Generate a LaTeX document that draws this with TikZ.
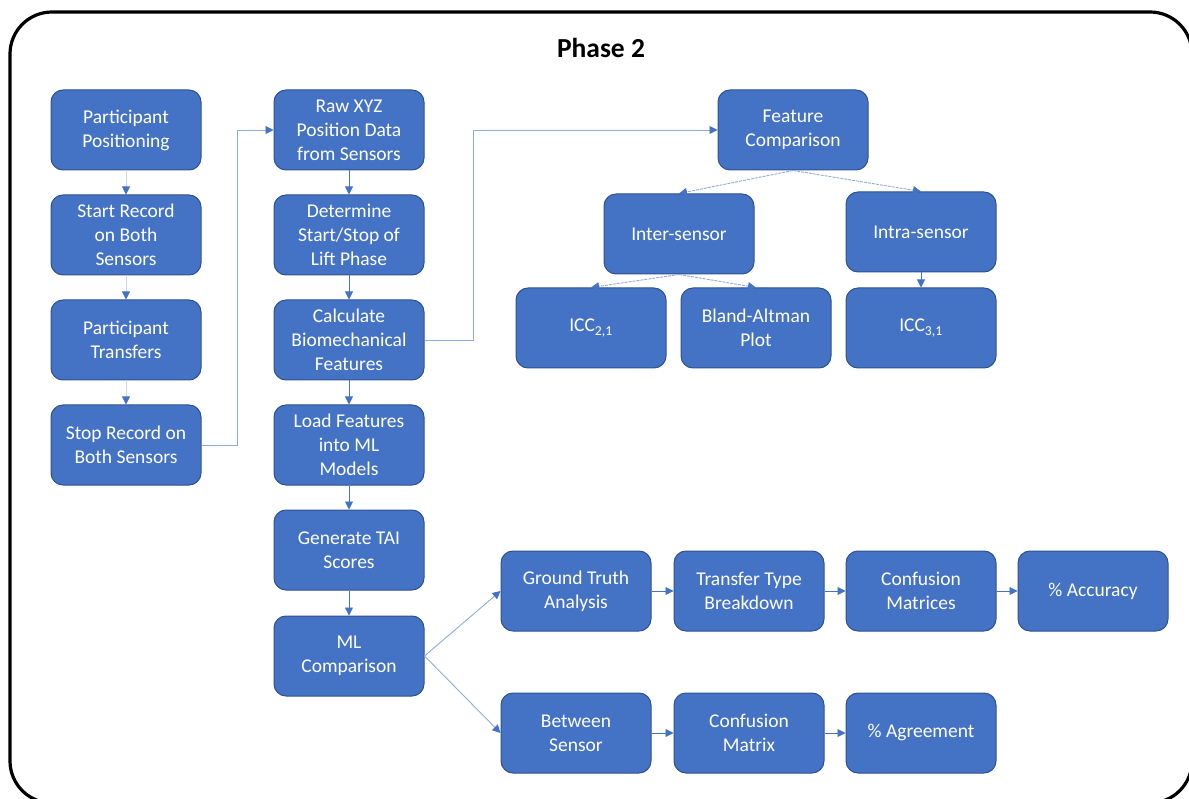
\documentclass[tikz,border=0pt]{standalone}
\usepackage{fontspec}
\setmainfont{Carlito}
\usetikzlibrary{arrows.meta}
\definecolor{boxfill}{HTML}{4472C4}
\definecolor{boxborder}{HTML}{2F528F}
\definecolor{arrcol}{HTML}{4472C4}
\definecolor{faint}{HTML}{C9D6EE}
\definecolor{mid}{HTML}{8FAADC}
\tikzset{
  box/.style={draw=boxborder, fill=boxfill, rounded corners=12pt, minimum width=150pt,
    minimum height=80pt, text=white, align=center, line width=1pt,
    font=\fontsize{19.5}{24}\selectfont, inner sep=1pt},
  arr/.style={draw=arrcol, line width=0.9pt, -{Triangle[length=8pt,width=8pt,color=arrcol]}},
  farr/.style={draw=faint, line width=0.9pt, -{Triangle[length=8pt,width=8pt,color=arrcol]}},
  darr/.style={draw=mid, line width=0.9pt, dash pattern=on 3pt off 1pt, -{Triangle[length=8pt,width=8pt,color=arrcol]}},
  larr/.style={draw=mid, line width=0.9pt, -{Triangle[length=8pt,width=8pt,color=arrcol]}},
}
\begin{document}
\begin{tikzpicture}[x=1pt,y=-1pt]
\useasboundingbox (0,0) rectangle (1189,799);
\draw[line width=3.2pt, rounded corners=42pt] (10,12) rectangle (1192,803);
\node[font=\fontsize{27.5}{32}\selectfont\bfseries] (title) at (601,48) {Phase 2};
% column 1
\node[box] (pp) at (126,130) {Participant\\Positioning};
\node[box] (sr) at (126,235) {Start Record\\on Both\\Sensors};
\node[box] (pt) at (126,340) {Participant\\Transfers};
\node[box] (st) at (126,445) {Stop Record on\\Both Sensors};
% column 2
\node[box] (raw) at (349,130) {Raw XYZ\\Position Data\\from Sensors};
\node[box] (det) at (349,235) {Determine\\Start/Stop of\\Lift Phase};
\node[box] (calc) at (349,340) {Calculate\\Biomechanical\\Features};
\node[box] (load) at (349,445) {Load Features\\into ML\\Models};
\node[box] (gen) at (349,550) {Generate TAI\\Scores};
\node[box] (mlc) at (349,656) {ML\\Comparison};
% feature tree
\node[box] (fc) at (793,130) {Feature\\Comparison};
\node[box] (inter) at (679,234) {Inter-sensor};
\node[box] (intra) at (921,232) {Intra-sensor};
\node[box] (icc2) at (591,328) {ICC\textsubscript{2,1}};
\node[box] (ba) at (756,328) {Bland-Altman\\Plot};
\node[box] (icc3) at (921,328) {ICC\textsubscript{3,1}};
% ML branches
\node[box] (gt) at (576,591) {Ground Truth\\Analysis};
\node[box] (tt) at (749,591) {Transfer Type\\Breakdown};
\node[box] (cms) at (921,591) {Confusion\\Matrices};
\node[box] (acc) at (1093,591) {\% Accuracy};
\node[box] (bs) at (576,733) {Between\\Sensor};
\node[box] (cm) at (749,733) {Confusion\\Matrix};
\node[box] (agr) at (921,733) {\% Agreement};
% connectors
\draw[farr] (pp) -- (sr);
\draw[farr] (sr) -- (pt);
\draw[farr] (pt) -- (st);
\coordinate (j1) at (237,445);
\draw[larr] (st.east) -- (j1) |- (raw.west);
\draw[arr] (raw) -- (det);
\draw[arr] (det) -- (calc);
\draw[arr] (calc) -- (load);
\draw[arr] (load) -- (gen);
\draw[arr] (gen) -- (mlc);
\coordinate (j2) at (473,340);
\draw[larr] (calc.east) -- (j2) |- (fc.west);
\draw[darr] (fc.south) -- (inter.north);
\draw[darr] (fc.south) -- (intra.north);
\draw[darr] (inter.south) -- (icc2.north);
\draw[darr] (inter.south) -- (ba.north);
\draw[arr] (intra) -- (icc3);
\draw[larr] (mlc.east) -- (gt.west);
\draw[larr] (mlc.east) -- (bs.west);
\draw[arr] (gt) -- (tt);
\draw[arr] (tt) -- (cms);
\draw[arr] (cms) -- (acc);
\draw[arr] (bs) -- (cm);
\draw[arr] (cm) -- (agr);
\end{tikzpicture}
\end{document}
